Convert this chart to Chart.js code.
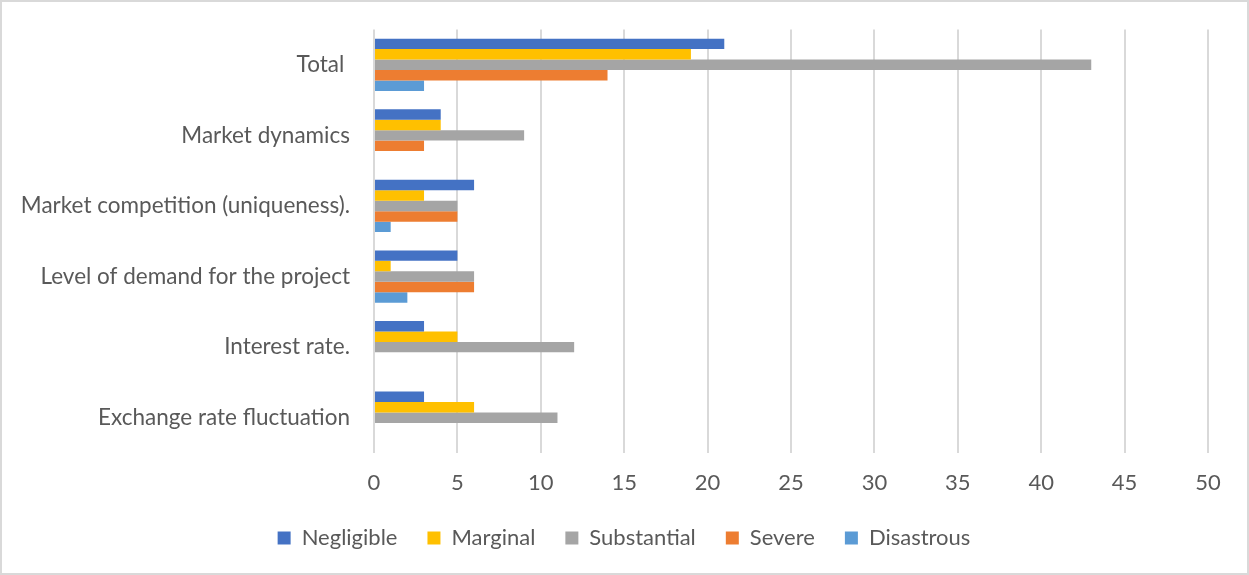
<!DOCTYPE html>
<html>
<head>
<meta charset="utf-8">
<title>Risk factors by impact level</title>
<script src="https://cdn.jsdelivr.net/npm/chart.js@4/dist/chart.umd.min.js"></script>
<style>
    html, body { margin: 0; padding: 0; background: #ffffff; }
    #riskChart { display: block; }
</style>
</head>
<body>
<canvas id="riskChart" width="1249" height="575"></canvas>
<script>
// Risk factors and how many answers fell in each impact level
const categories = [
    "Total ",
    "Market dynamics",
    "Market competition (uniqueness).",
    "Level of demand for the project",
    "Interest rate.",
    "Exchange rate fluctuation"
];

const negligible  = [21, 4, 6, 5, 3, 3];
const marginal    = [19, 4, 3, 1, 5, 6];
const substantial = [43, 9, 5, 6, 12, 11];
const severe      = [14, 3, 5, 6, 0, 0];
const disastrous  = [3, 0, 1, 2, 0, 0];

const axisMin = 0;
const axisMax = 50;
const axisStep = 5;

const textColor = "#595959";
const gridColor = "#d9d9d9";
const fontFamily = "Lato, 'Liberation Sans', sans-serif";

// Light grey frame around the whole chart
const framePlugin = {
    id: "frame",
    afterDraw(chart) {
        const ctx = chart.ctx;
        ctx.save();
        ctx.strokeStyle = gridColor;
        ctx.lineWidth = 2;
        ctx.strokeRect(1, 1, chart.width - 2, chart.height - 2);
        ctx.restore();
    }
};

// Center the legend on the whole canvas instead of the padded box
const legendShift = {
    id: "legendShift",
    afterLayout(chart) {
        const lg = chart.legend;
        if (lg) {
            lg.left += 20;
            lg.right += 20;
        }
    }
};

function series(label, data, color) {
    return {
        label: label,
        data: data,
        backgroundColor: color,
        borderWidth: 0,
        categoryPercentage: 0.74,
        barPercentage: 1.0
    };
}

new Chart(document.getElementById("riskChart"), {
    type: "bar",
    data: {
        labels: categories,
        datasets: [
            series("Negligible", negligible, "#4472c4"),
            series("Marginal", marginal, "#ffc000"),
            series("Substantial", substantial, "#a5a5a5"),
            series("Severe", severe, "#ed7d31"),
            series("Disastrous", disastrous, "#5b9bd5")
        ]
    },
    options: {
        indexAxis: "y",
        responsive: false,
        animation: false,
        devicePixelRatio: 1,
        layout: {
            padding: { left: 0, top: 29.5, right: 41, bottom: 16 }
        },
        scales: {
            x: {
                min: axisMin,
                max: axisMax,
                ticks: {
                    stepSize: axisStep,
                    color: textColor,
                    padding: 17,
                    font: { family: fontFamily, size: 22 }
                },
                grid: {
                    color: gridColor,
                    lineWidth: 2,
                    drawTicks: false
                },
                border: { display: false },
                afterFit(scale) {
                    scale.height = 44;
                }
            },
            y: {
                ticks: {
                    color: textColor,
                    padding: 24,
                    font: { family: fontFamily, size: 22.5 }
                },
                grid: { display: false, drawTicks: false },
                border: { display: false },
                afterFit(scale) {
                    // fixed label column; labels sit inside their bands
                    scale.width = 374;
                    scale.paddingTop = 0;
                    scale.paddingBottom = 0;
                }
            }
        },
        plugins: {
            legend: {
                position: "bottom",
                labels: {
                    color: textColor,
                    boxWidth: 13,
                    boxHeight: 13,
                    padding: 30,
                    font: { family: fontFamily, size: 22 }
                }
            },
            tooltip: { enabled: false }
        }
    },
    plugins: [framePlugin, legendShift]
});
</script>
</body>
</html>
